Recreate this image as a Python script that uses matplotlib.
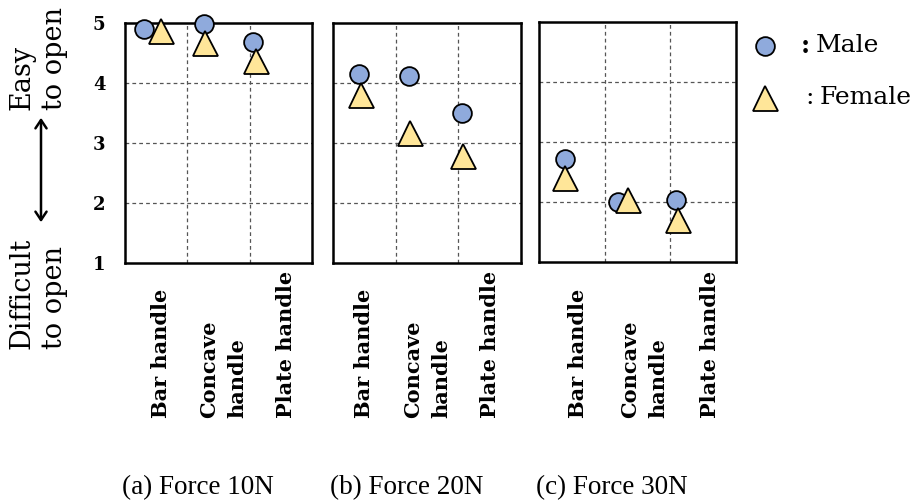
import matplotlib
matplotlib.use("Agg")
import matplotlib.pyplot as plt
from matplotlib.lines import Line2D

# ratings (1 = difficult to open, 5 = easy to open)
handles = ["Bar handle", "Concave\nhandle", "Plate handle"]
forces = ["(a) Force 10N", "(b) Force 20N", "(c) Force 30N"]
male = [[4.90, 4.98, 4.68],
        [4.15, 4.12, 3.50],
        [2.72, 2.00, 2.04]]
female = [[4.87, 4.66, 4.37],
          [3.80, 3.17, 2.78],
          [2.39, 2.03, 1.70]]

# horizontal placement of the markers inside each panel (slot 0..3)
male_xpos = [[0.30, 1.27, 2.05], [0.42, 1.21, 2.06], [0.39, 1.20, 2.09]]
female_xpos = [[0.58, 1.28, 2.10], [0.45, 1.23, 2.08], [0.39, 1.35, 2.12]]

W, H = 919, 501
MALE_C = "#8faadc"
FEMALE_C = "#ffe699"
SERIF = "DejaVu Serif"


def fx(px):
    return px / W


def fy(py):
    return 1 - py / H


fig = plt.figure(figsize=(W / 100, H / 100), dpi=100)

# panel boxes in pixels: left, top, right, bottom
boxes = [(125, 22.7, 312, 263), (333, 22.7, 521, 263), (539, 21.7, 736, 262)]
label_shift = [0.08, 0.0, 0.1]

for i, (l, t, r, b) in enumerate(boxes):
    ax = fig.add_axes([fx(l), fy(b), (r - l) / W, (b - t) / H])
    ax.set_xlim(0, 3)
    ax.set_ylim(1, 5)
    for s in ax.spines.values():
        s.set_linewidth(1.8)
    for v in (1, 2):
        ax.axvline(v, color="#555555", lw=0.9, ls=(0, (3, 2.5)), zorder=1)
    for v in (2, 3, 4):
        ax.axhline(v, color="#555555", lw=0.9, ls=(0, (3, 2.5)), zorder=1)

    ax.plot(male_xpos[i], male[i], ls="none", marker="o", ms=13.5,
            mfc=MALE_C, mec="black", mew=1.3, clip_on=False, zorder=3)
    ax.plot(female_xpos[i], female[i], ls="none", marker="^", ms=18,
            mfc=FEMALE_C, mec="black", mew=1.3, clip_on=False, zorder=4)

    ax.set_xticks([])
    ax.tick_params(axis="y", length=0, pad=14)
    if i == 0:
        ax.set_yticks([1, 2, 3, 4, 5])
        ax.set_yticklabels(["1", "2", "3", "4", "5"], fontfamily=SERIF,
                           fontweight="bold", fontsize=13)
    else:
        ax.set_yticks([])

    for k, name in enumerate(handles):
        ax.annotate(name, xy=(k + 0.5 + label_shift[i], 0),
                    xycoords=ax.get_xaxis_transform(),
                    xytext=(0, -(418 - b) * 0.72), textcoords="offset points",
                    rotation=90, ha="center", va="bottom", multialignment="left",
                    fontfamily=SERIF, fontweight="bold", fontsize=15,
                    linespacing=1.5)

    fig.text(fx(l - 3), fy(494), forces[i], fontfamily="Liberation Serif",
             fontsize=19.5, ha="left", va="baseline")

# vertical axis description
fig.text(fx(38), fy(110), "Easy\nto open", rotation=90, ha="center", va="bottom",
         multialignment="left", fontfamily=SERIF, fontsize=19.5, linespacing=1.25)
fig.text(fx(38), fy(349), "Difficult\nto open", rotation=90, ha="center",
         va="bottom", multialignment="left", fontfamily=SERIF, fontsize=19.5,
         linespacing=1.25)
fig.add_artist(matplotlib.patches.FancyArrowPatch(
    (fx(41), fy(225)), (fx(41), fy(115)), transform=fig.transFigure,
    arrowstyle="<->,head_length=6,head_width=4", lw=1.8, color="black"))

# legend
fig.add_artist(Line2D([fx(765)], [fy(46)], transform=fig.transFigure, marker="o",
                      ms=13.5, mfc=MALE_C, mec="black", mew=1.3, ls="none"))
fig.add_artist(Line2D([fx(765)], [fy(98)], transform=fig.transFigure, marker="^",
                      ms=18, mfc=FEMALE_C, mec="black", mew=1.3, ls="none"))
for ypx, cx, wx, word in [(46, 801, 816, "Male"), (97, 805, 820, "Female")]:
    fig.text(fx(cx), fy(ypx), ":", ha="left", va="center", fontsize=18,
             family=SERIF, fontweight="bold" if word == "Male" else "normal")
    fig.text(fx(wx), fy(ypx), word, ha="left", va="center", fontsize=18,
             family=SERIF)

fig.savefig("out.png", dpi=100)
